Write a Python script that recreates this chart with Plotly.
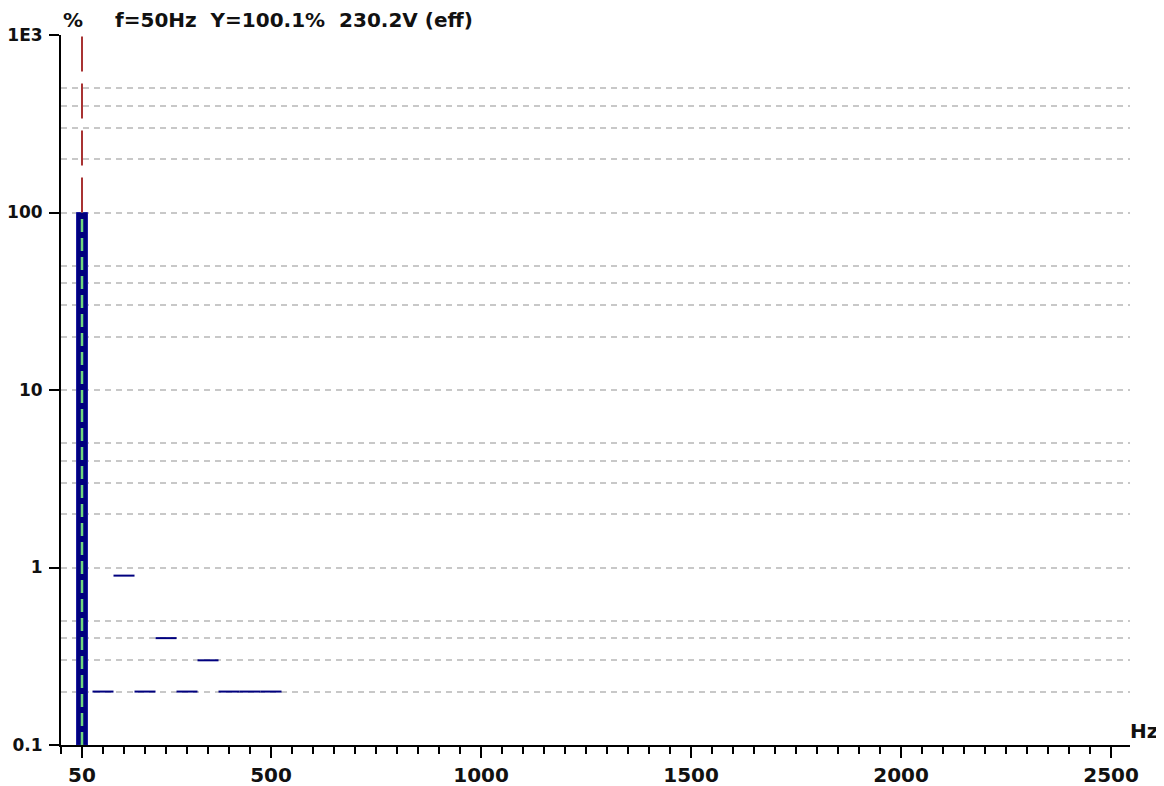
import plotly.graph_objects as go

# ---- data ----
fundamental_hz = 50
fundamental_pct = 100.0
harmonic_orders = [2, 3, 4, 5, 6, 7, 8, 9, 10]
harmonic_pct = [0.2, 0.9, 0.2, 0.4, 0.2, 0.3, 0.2, 0.2, 0.2]
cursor_hz = 50
y_floor = 0.1
y_top = 1000
x_tickvals = [50, 500, 1000, 1500, 2000, 2500]
x_ticktext = ["50", "500", "1000", "1500", "2000", "2500"]
y_tickvals = [0.1, 1, 10, 100, 1000]
y_ticktext = ["0.1", "1", "10", "100", "1E3"]
y_minor_vals = [m * d for d in [0.1, 1, 10, 100] for m in [2, 3, 4, 5]]
title_text = "f=50Hz  Y=100.1%  230.2V (eff)"

NAVY = "#00007f"
FONT = dict(family="DejaVu Sans", size=20, color="#111111")
TICKFONT = dict(family="DejaVu Sans", size=20, color="#111111", weight="bold")
YTICKFONT = dict(family="DejaVu Sans", size=17, color="#111111", weight="bold")

fig = go.Figure()

# fundamental bar
fig.add_trace(go.Bar(
    x=[fundamental_hz], y=[fundamental_pct - y_floor], base=[y_floor],
    width=26, marker=dict(color=NAVY, line=dict(color="#1a1aa0", width=1)),
    showlegend=False, hoverinfo="skip"))

# green dashed line inside the bar
fig.add_trace(go.Scatter(
    x=[cursor_hz, cursor_hz], y=[y_floor, fundamental_pct], mode="lines",
    line=dict(color="#6fd67f", width=2.5, dash="13px,6px"),
    showlegend=False, hoverinfo="skip"))

# red dashed cursor line above the bar
fig.add_trace(go.Scatter(
    x=[cursor_hz, cursor_hz], y=[fundamental_pct, y_top], mode="lines",
    line=dict(color="#a83232", width=2, dash="35px,12px"),
    showlegend=False, hoverinfo="skip"))

# harmonic levels as short horizontal segments (one harmonic bin wide)
hx, hy = [], []
for order, val in zip(harmonic_orders, harmonic_pct):
    f = order * fundamental_hz
    hx += [f - fundamental_hz / 2, f + fundamental_hz / 2, None]
    hy += [val, val, None]
fig.add_trace(go.Scatter(
    x=hx, y=hy, mode="lines", line=dict(color=NAVY, width=2),
    showlegend=False, hoverinfo="skip"))

fig.update_layout(
    width=1164, height=786,
    margin=dict(l=53, r=42, t=27, b=49),
    paper_bgcolor="white", plot_bgcolor="white",
    font=FONT,
    showlegend=False,
    xaxis=dict(
        range=[0, 2545], showgrid=False, zeroline=False, automargin=False,
        showline=True, linecolor="black", linewidth=2,
        tickmode="array", tickvals=x_tickvals, ticktext=x_ticktext,
        ticks="outside", ticklen=11, tickwidth=2, tickcolor="black",
        tickfont=TICKFONT,
        minor=dict(dtick=50, tick0=0, ticks="outside", ticklen=7,
                   tickwidth=2, tickcolor="black", showgrid=False),
    ),
    yaxis=dict(
        type="log", range=[-1, 3], zeroline=False, automargin=False,
        showline=True, linecolor="black", linewidth=2,
        tickmode="array", tickvals=y_tickvals, ticktext=y_ticktext,
        ticks="outside", ticklen=10, tickwidth=2, tickcolor="black",
        ticklabelstandoff=3,
        tickfont=YTICKFONT,
        showgrid=True, gridcolor="#c8c8c8", gridwidth=2, griddash="6px,5px",
        minor=dict(tickmode="array", tickvals=y_minor_vals, ticks="",
                   showgrid=True, gridcolor="#c8c8c8", gridwidth=2,
                   griddash="6px,5px"),
    ),
    annotations=[
        dict(text="<b>%</b>", xref="paper", yref="paper", x=0.0113, y=1.0,
             xanchor="center", yanchor="bottom", yshift=1, showarrow=False,
             font=FONT),
        dict(text="<b>" + title_text + "</b>", xref="paper", yref="paper",
             x=0.0486, y=1.0, xanchor="left", yanchor="bottom", yshift=1,
             showarrow=False, font=FONT),
        dict(text="<b>Hz</b>", xref="paper", yref="paper", x=1.0, y=0.0,
             xanchor="left", yanchor="bottom", xshift=-2, yshift=0,
             showarrow=False, font=FONT),
    ],
)

fig.write_html("out.html")
